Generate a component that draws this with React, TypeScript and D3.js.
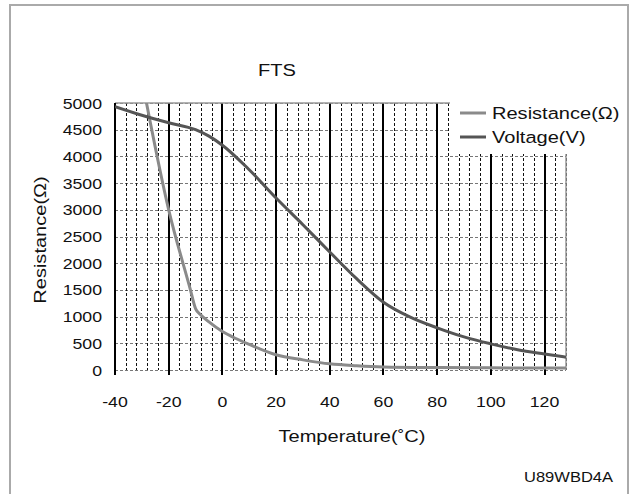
import React from "react";
import * as d3 from "d3";

const temps = [-40, -20, 0, 20, 40, 60, 80, 100, 120];
const resTicks = [0, 500, 1000, 1500, 2000, 2500, 3000, 3500, 4000, 4500, 5000];

const resT = [-30, -20, -12, -10, -8, -5, 0, 5, 10, 20, 30, 40, 50, 60, 80, 100, 128];
const resV = [5450, 3000, 1520, 1150, 1030, 900, 720, 590, 480, 285, 190, 115, 80, 58, 45, 40, 37];

const voltT = [-40, -30, -20, -10, -5, 0, 10, 20, 30, 40, 50, 60, 70, 80, 90, 100, 110, 120, 128];
const voltV = [4.93, 4.77, 4.63, 4.5, 4.38, 4.21, 3.75, 3.22, 2.72, 2.21, 1.71, 1.27, 0.99, 0.79, 0.62, 0.49, 0.38, 0.3, 0.24];

const title = "FTS";
const xTitle = "Temperature(˚C)";
const yTitle = "Resistance(Ω)";
const legendNames = ["Resistance(Ω)", "Voltage(V)"];
const colors = ["#8a8a8a", "#555555"];
const figCode = "U89WBD4A";

const W = 631, H = 494;
const L = 115, R = 566, T = 103, B = 370;
const SX = 1.18;
const FONT = "'Liberation Sans', Arial, Helvetica, sans-serif";

function Txt({ x, y, size, anchor = "start", rot = 0, children }: any) {
  return (
    <text
      transform={`translate(${x},${y}) rotate(${rot}) scale(${SX},1)`}
      fontSize={size}
      textAnchor={anchor}
      fill="#111"
      fontFamily={FONT}
    >
      {children}
    </text>
  );
}

export default function App() {
  const x = d3.scaleLinear().domain([-40, 128]).range([L, R]);
  const y = d3.scaleLinear().domain([0, 5000]).range([B, T]);
  const yV = d3.scaleLinear().domain([0, 5]).range([B, T]);
  const px = (v: number) => Math.round(v) + 0.5;

  const resLine = d3
    .line<number>()
    .x((_, i) => x(resT[i]))
    .y((d) => y(d))
    .curve(d3.curveMonotoneX)(resV) as string;
  const voltLine = d3
    .line<number>()
    .x((_, i) => x(voltT[i]))
    .y((d) => yV(d))
    .curve(d3.curveMonotoneX)(voltV) as string;

  const minor = d3.range(-36, 129, 4).filter((t) => t % 20 !== 0);
  const major = d3.range(-20, 121, 20);

  return (
    <svg width={W} height={H} style={{ position: "absolute", left: 0, top: 0, background: "#fff" }}>
      <rect x={0} y={0} width={W} height={H} fill="#fff" />
      <rect x={10} y={5} width={618} height={520} fill="none" stroke="#aaa" strokeWidth={2} />
      <defs>
        <clipPath id="plotclip">
          <rect x={L} y={T} width={R - L} height={B - T + 2} />
        </clipPath>
      </defs>
      {resTicks.map((v) => (
        <line key={"h" + v} x1={L} x2={R} y1={px(y(v))} y2={px(y(v))} stroke="#777" strokeWidth={1} strokeDasharray="3,2" />
      ))}
      {minor.map((t) => (
        <line key={"m" + t} x1={px(x(t))} x2={px(x(t))} y1={T} y2={B} stroke="#111" strokeWidth={1} strokeDasharray="3,2" />
      ))}
      {major.map((t) => (
        <line key={"M" + t} x1={Math.round(x(t))} x2={Math.round(x(t))} y1={T} y2={B + 5} stroke="#000" strokeWidth={2} />
      ))}
      <line x1={L} x2={R} y1={T} y2={T} stroke="#999" strokeWidth={1.5} />
      <line x1={R} x2={R} y1={T} y2={B} stroke="#999" strokeWidth={1.5} />
      <line x1={L} x2={L} y1={T} y2={B + 5} stroke="#000" strokeWidth={2} />
      <g clipPath="url(#plotclip)">
        <path d={resLine} fill="none" stroke={colors[0]} strokeWidth={3} />
        <path d={voltLine} fill="none" stroke={colors[1]} strokeWidth={3} />
      </g>
      <rect x={450} y={94} width={170} height={60} fill="#fff" />
      {legendNames.map((n, i) => (
        <g key={n}>
          <line x1={460} x2={486} y1={113 + i * 24} y2={113 + i * 24} stroke={colors[i]} strokeWidth={3} />
          <Txt x={492} y={119 + i * 24} size={17}>{n}</Txt>
        </g>
      ))}
      <Txt x={277} y={76} size={17} anchor="middle">{title}</Txt>
      {resTicks.map((v) => (
        <Txt key={"yl" + v} x={102} y={y(v) + 5.5} size={15} anchor="end">{v}</Txt>
      ))}
      {temps.map((t) => (
        <Txt key={"xl" + t} x={x(t)} y={407} size={15} anchor="middle">{t}</Txt>
      ))}
      <Txt x={352} y={442} size={17} anchor="middle">{xTitle}</Txt>
      <Txt x={46} y={240} size={17} anchor="middle" rot={-90}>{yTitle}</Txt>
      <Txt x={613} y={482} size={14} anchor="end">{figCode}</Txt>
    </svg>
  );
}
